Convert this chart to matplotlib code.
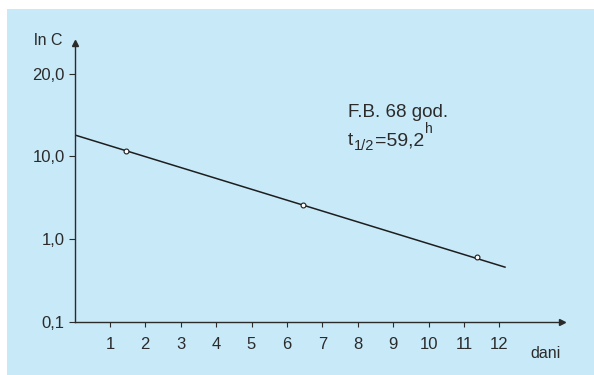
import matplotlib.pyplot as plt
from matplotlib.patches import Rectangle

plt.rcParams['font.family'] = ['Liberation Sans', 'DejaVu Sans']

# measured points (x in days, y in axis units of the fake log scale)
days = [1.45, 6.45, 11.36]
ln_c = [2.07, 1.41, 0.78]

# regression line ends
fit_days = [0, 12.18]
fit_ln_c = [2.26, 0.66]

x_ticks = list(range(1, 13))
y_ticks = [0, 1, 2, 3]
y_labels = ['0,1', '1,0', '10,0', '20,0']

W, H = 594, 375
BG = '#c7e9f8'
INK = '#2b2b2b'

fig = plt.figure(figsize=(W / 100, H / 100), dpi=100)
fig.patch.set_facecolor('white')
fig.patches.append(Rectangle((7 / W, 0), 1 - 7 / W, (H - 9) / H,
                             transform=fig.transFigure, facecolor=BG,
                             edgecolor='none', zorder=-1))

# axes placed in pixels: x=0 at 74.5px, y=0 at 322px from top
x0, y0 = 74.5, 322
xmax, ymax = 13.77, 3.37
ax = fig.add_axes([x0 / W, (H - y0) / H, (562 - x0) / W, (y0 - 43) / H])
ax.set_facecolor('none')
ax.set_xlim(0, xmax)
ax.set_ylim(0, ymax)

for side in ['top', 'right']:
    ax.spines[side].set_visible(False)
for side in ['left', 'bottom']:
    ax.spines[side].set_color(INK)
    ax.spines[side].set_linewidth(1.0)

# arrow heads
ax.plot(1, 0, '>', color=INK, ms=4, transform=ax.get_yaxis_transform(), clip_on=False)
ax.plot(0, 1, '^', color=INK, ms=4, transform=ax.get_xaxis_transform(), clip_on=False)

ax.set_xticks(x_ticks)
ax.set_xticklabels([str(t) for t in x_ticks])
ax.set_yticks(y_ticks)
ax.set_yticklabels(y_labels)
ax.tick_params(axis='x', direction='out', length=3.6, width=0.8, color=INK,
               pad=7, labelsize=12, labelcolor=INK)
ax.tick_params(axis='y', direction='out', length=4.5, width=0.8, color=INK,
               pad=2.5, labelsize=12, labelcolor=INK)

ax.plot(fit_days, fit_ln_c, color='#1e1e1e', lw=1.1, solid_capstyle='butt')
ax.plot(days, ln_c, 'o', ms=3.5, mfc='white', mec='#1e1e1e', mew=0.8, zorder=3)


def px_text(x, y, s, size, **kw):
    return fig.text(x / W, 1 - y / H, s, ha='left', va='baseline',
                    fontsize=size, color=INK, **kw)


fig.text(63 / W, 1 - 45 / H, 'ln C', ha='right', va='baseline',
         fontsize=11.5, color=INK)
px_text(530, 358, 'dani', 11.5)

px_text(348, 117, 'F.B. 68 god.', 13.5)

# t_{1/2}=59,2^h built from pieces, each starting where the last one ends
renderer = fig.canvas.get_renderer()
pieces = [('t', 145, 13.5, 0.5), ('1/2', 150, 10.5, 0.5),
          ('=59,2', 145, 14, 1.5), ('h', 133, 10, 0)]
x = 348
for s, base, size, gap in pieces:
    t = px_text(x, base, s, size)
    x = t.get_window_extent(renderer).x1 + gap

fig.savefig('out.png', dpi=100, facecolor=fig.get_facecolor())
